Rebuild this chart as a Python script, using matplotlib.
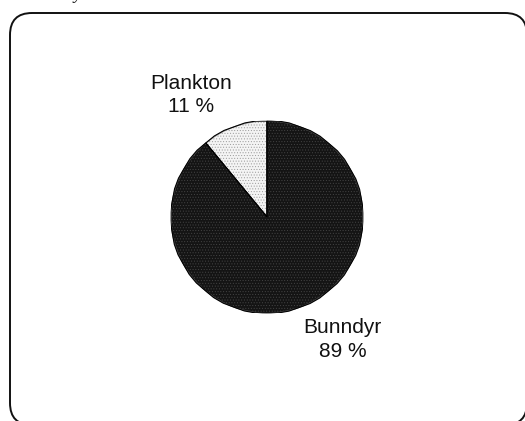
import numpy as np
import matplotlib.pyplot as plt
from matplotlib.patches import FancyBboxPatch

plt.rcParams['font.family'] = ['Liberation Sans', 'DejaVu Sans']
plt.rcParams['hatch.linewidth'] = 0.4

categories = ["Plankton", "Bunndyr"]
shares = [11, 89]
pct_labels = ["11 %", "89 %"]

W, H = 525, 421
fig = plt.figure(figsize=(W / 100, H / 100), dpi=100)

# background layer in pixel coordinates for the rounded frame
bg = fig.add_axes([0, 0, 1, 1])
bg.set_xlim(0, W)
bg.set_ylim(H, 0)
bg.axis("off")
frame = FancyBboxPatch((10, 13), 517, 412,
                       boxstyle="round,pad=0,rounding_size=22",
                       facecolor="white", edgecolor="#111111", linewidth=1.4)
bg.add_patch(frame)
# cut-off caption fragment at the top
bg.text(77, -1, "y", fontsize=13, family="Liberation Serif", style="italic",
        ha="center", va="baseline", color="#222222")

# pie
cx, cy, r = 267, 217, 96
ax = fig.add_axes([(cx - r) / W, (H - cy - r) / H, 2 * r / W, 2 * r / H])
wedges, _ = ax.pie(shares, startangle=90, counterclock=True,
                   colors=["#f4f4f4", "#141414"],
                   wedgeprops=dict(edgecolor="black", linewidth=0.8))
wedges[0].set_hatch("......")
wedges[0].set_edgecolor("#9a9a9a")
wedges[1].set_hatch("......")
wedges[1].set_edgecolor("#444444")
# outline over the hatched wedges
for w in wedges:
    ax.add_patch(plt.Polygon(w.get_path().vertices, closed=True, fill=False,
                             edgecolor="black", linewidth=0.8))
ax.set_xlim(-1, 1)
ax.set_ylim(-1, 1)
ax.set_aspect("equal")
ax.axis("off")

label_pos = [(-0.79, 1.27), (0.79, -1.28)]
for name, pct, (x, y) in zip(categories, pct_labels, label_pos):
    ax.text(x, y, f"{name}\n{pct}", ha="center", va="center", fontsize=15,
            linespacing=1.32, color="#111111", clip_on=False)

fig.savefig("out.png", dpi=100)
